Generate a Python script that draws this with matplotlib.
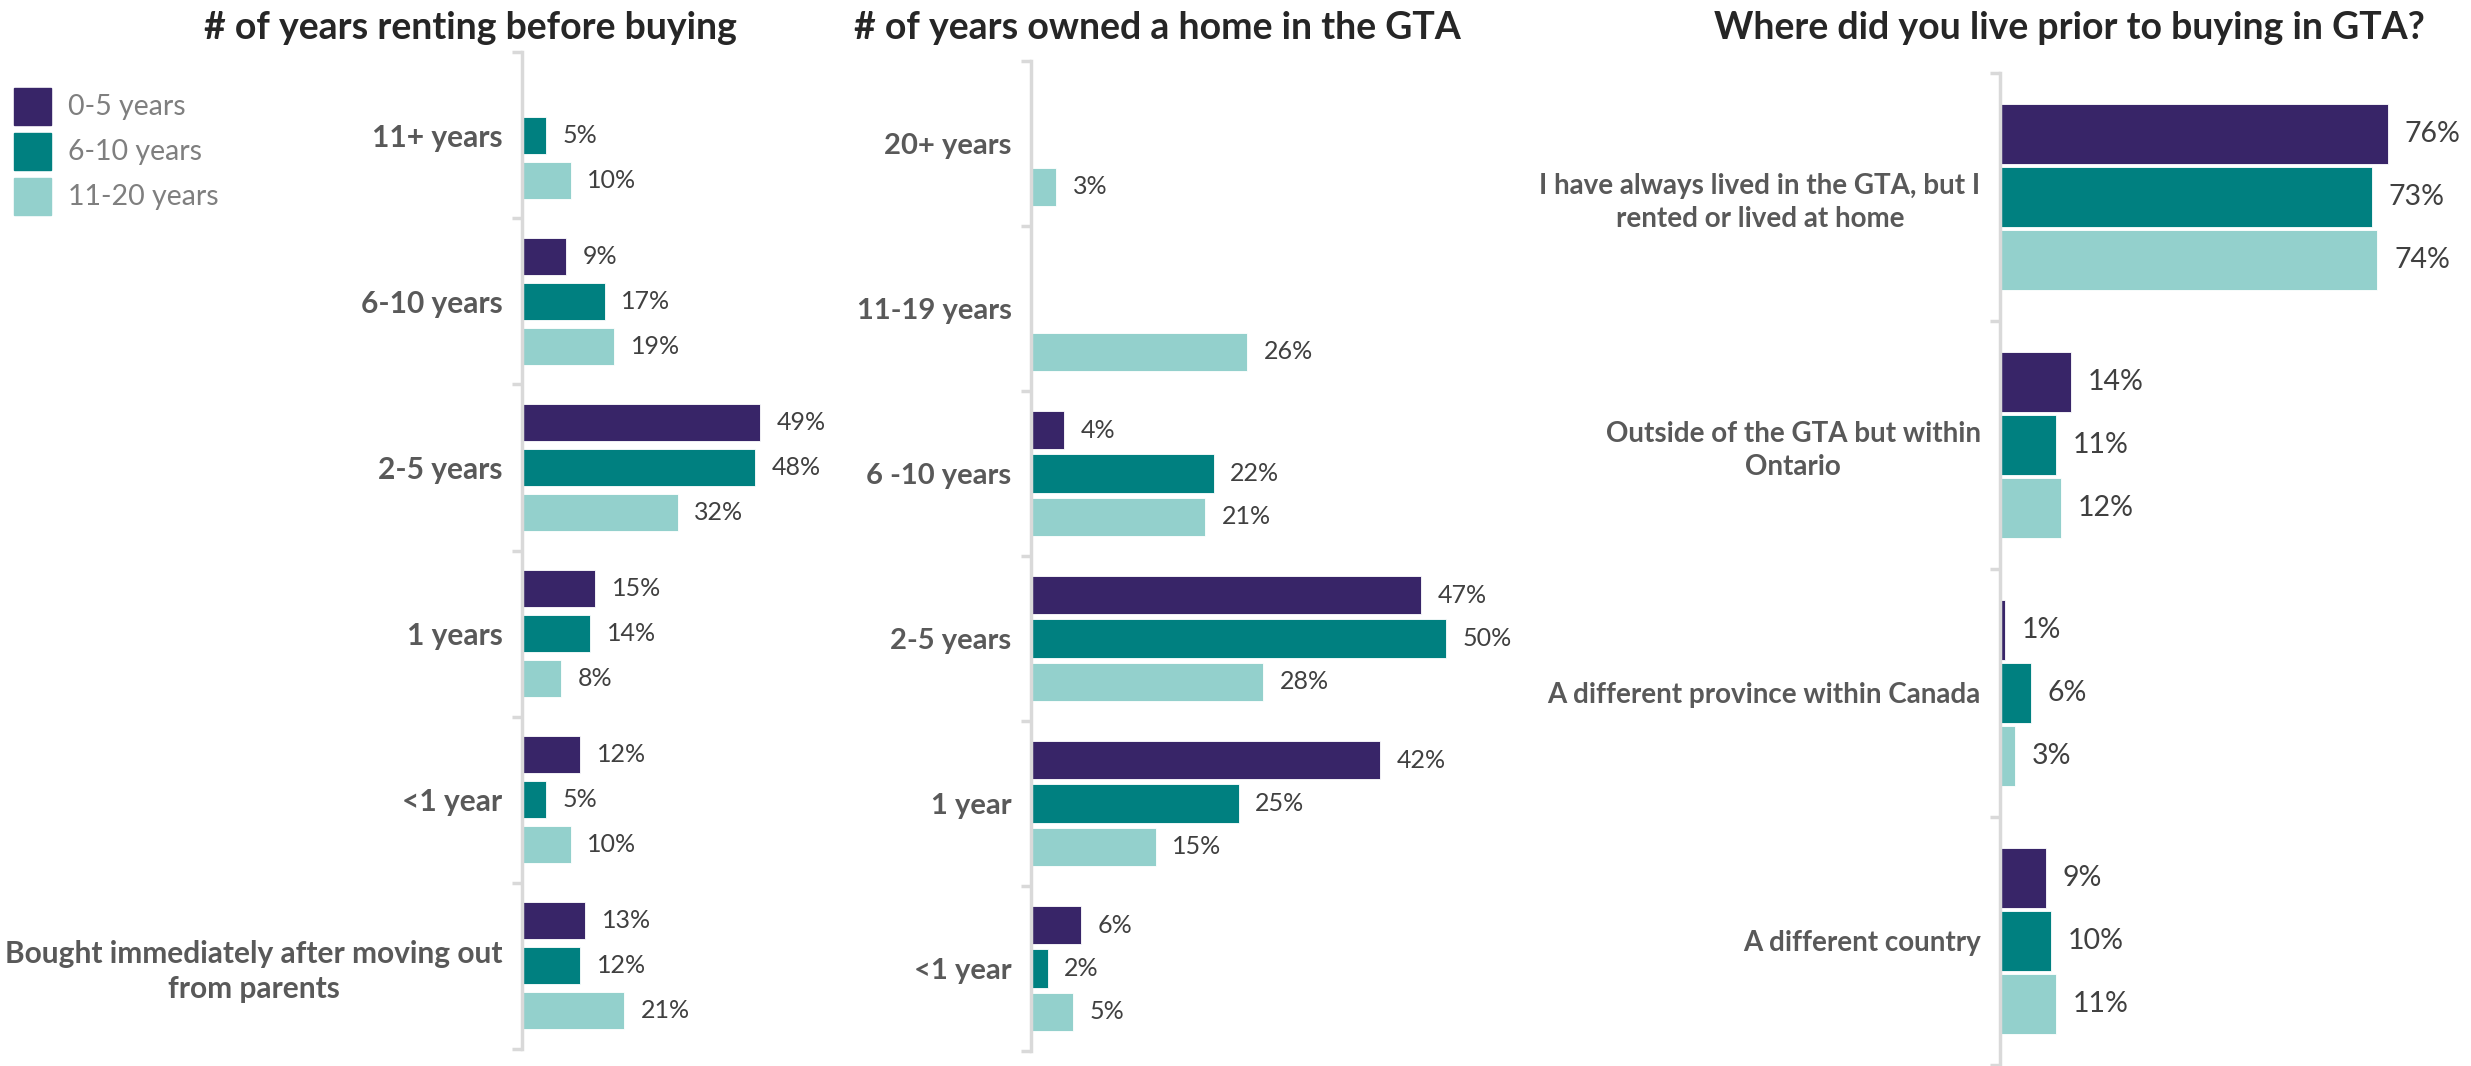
import matplotlib
matplotlib.use("Agg")
import matplotlib.pyplot as plt
import numpy as np

plt.rcParams['font.family'] = ['Lato', 'DejaVu Sans']

# ---------------- data ----------------
series_names = ["0-5 years", "6-10 years", "11-20 years"]
series_colors = ["#382568", "#008080", "#93D0CC"]

p1_title = "# of years renting before buying"
p1_cats = ["11+ years", "6-10 years", "2-5 years", "1 years", "<1 year",
           "Bought immediately after moving out\nfrom parents"]
p1_s1 = [None, 9, 49, 15, 12, 13]
p1_s2 = [5, 17, 48, 14, 5, 12]
p1_s3 = [10, 19, 32, 8, 10, 21]

p2_title = "# of years owned a home in the GTA"
p2_cats = ["20+ years", "11-19 years", "6 -10 years", "2-5 years", "1 year", "<1 year"]
p2_s1 = [None, None, 4, 47, 42, 6]
p2_s2 = [None, None, 22, 50, 25, 2]
p2_s3 = [3, 26, 21, 28, 15, 5]

p3_title = "Where did you live prior to buying in GTA?"
p3_cats = ["I have always lived in the GTA, but I\nrented or lived at home",
           "Outside of the GTA but within\nOntario",
           "A different province within Canada",
           "A different country"]
p3_s1 = [76, 14, 1, 9]
p3_s2 = [73, 11, 6, 10]
p3_s3 = [74, 12, 3, 11]

# ---------------- layout ----------------
W, H = 2471, 1066
fig = plt.figure(figsize=(W / 100, H / 100), dpi=100)

AXIS_COL = "#D9D9D9"
CAT_COL = "#595959"
LAB_COL = "#404040"
TITLE_COL = "#262626"


def make_panel(left, top, bottom, px_per_pct, xmax, cats, series, pitch, height,
               lab_size, cat_size):
    ax = fig.add_axes([left / W, 1 - bottom / H, px_per_pct * xmax / W, (bottom - top) / H])
    n = len(cats)
    idx = np.arange(n)
    for k, (vals, col) in enumerate(zip(series, series_colors)):
        for i, v in enumerate(vals):
            if v is None:
                continue
            y = i + (k - 1) * pitch
            ax.barh(y, v, height=height, color=col, edgecolor="white", linewidth=0.6)
            ax.annotate(f"{v}%", xy=(v, y), xytext=(12, 0), textcoords="offset points",
                        ha="left", va="center", fontsize=lab_size, color=LAB_COL)
    ax.set_xlim(0, xmax)
    ax.set_ylim(n - 0.5, -0.5)
    for s in ["top", "right", "bottom"]:
        ax.spines[s].set_visible(False)
    ax.spines["left"].set_color(AXIS_COL)
    ax.spines["left"].set_linewidth(2.5)
    ax.set_xticks([])
    ax.set_yticks(idx)
    ax.set_yticklabels(cats, fontsize=cat_size, fontweight="bold", color=CAT_COL,
                       multialignment="center", linespacing=1.3)
    ax.set_yticks(np.arange(n + 1) - 0.5, minor=True)
    ax.tick_params(axis="y", which="major", length=0, pad=14)
    ax.tick_params(axis="y", which="minor", length=7, width=2.5, color=AXIS_COL)
    ax.patch.set_alpha(0)
    return ax


make_panel(522, 52, 1049, 4.86, 60, p1_cats, [p1_s1, p1_s2, p1_s3], 0.271, 0.223, 18, 21.5)
make_panel(1031, 61, 1051, 8.3, 55, p2_cats, [p2_s1, p2_s2, p2_s3], 0.262, 0.232, 18, 21)
make_panel(2000, 73, 1065, 5.1, 90, p3_cats, [p3_s1, p3_s2, p3_s3], 0.254, 0.238, 20.5, 20)

# titles
for txt, cx in [(p1_title, 470), (p2_title, 1157), (p3_title, 2069)]:
    fig.text(cx / W, 1 - 28 / H, txt, ha="center", va="center", fontsize=27,
             fontweight="bold", color=TITLE_COL)

# legend
for k, (name, col) in enumerate(zip(series_names, series_colors)):
    y0 = 88 + k * 45
    fig.patches.append(plt.Rectangle((14 / W, 1 - (y0 + 37) / H), 37 / W, 37 / H,
                                     transform=fig.transFigure, color=col, figure=fig))
    fig.text(68 / W, 1 - (y0 + 19) / H, name, ha="left", va="center", fontsize=20.5,
             color="#7F7F7F")

fig.savefig("out.png", dpi=100, facecolor="white")
